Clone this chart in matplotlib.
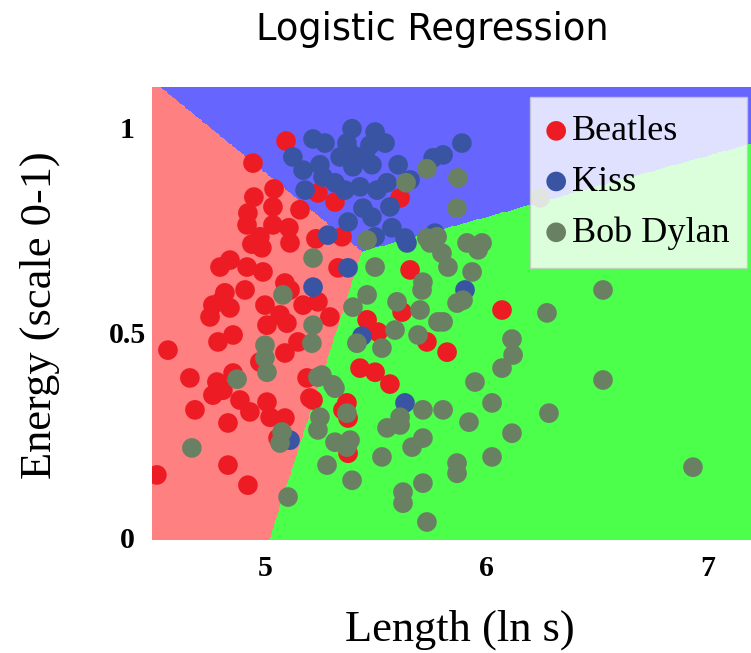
import numpy as np
import matplotlib
matplotlib.use("Agg")
import matplotlib.pyplot as plt
from matplotlib.colors import ListedColormap

# ---------------- data ----------------
classes = ["Beatles", "Kiss", "Bob Dylan"]

beatles_x = [5.095, 4.946, 5.041, 4.950, 5.158, 5.036, 4.923, 4.919, 5.036, 5.108,
             5.230, 5.239, 5.316, 5.610, 5.348, 4.977, 4.941, 4.986, 4.797, 4.842,
             4.919, 5.113, 5.330, 5.655, 4.910, 4.819, 4.806, 4.842, 4.752, 5.000,
             5.090, 5.113, 5.172, 5.239, 5.068, 5.009, 5.099, 4.856, 4.788, 4.562,
             5.090, 5.149, 4.977, 4.661, 4.783, 4.856, 5.190, 5.293, 5.461, 5.510,
             5.619, 5.731, 5.822, 5.429, 5.497, 5.564, 4.765, 4.810, 4.684, 4.887,
             4.932, 5.009, 5.023, 5.090, 4.833, 5.203, 5.059, 4.833, 4.512, 4.923,
             5.217, 5.370, 5.352, 5.375, 5.375, 6.070, 4.765, 4.991]
beatles_y = [0.968, 0.914, 0.851, 0.831, 0.800, 0.807, 0.792, 0.763, 0.763, 0.756,
             0.729, 0.841, 0.819, 0.829, 0.734, 0.734, 0.716, 0.707, 0.660, 0.677,
             0.660, 0.719, 0.658, 0.653, 0.604, 0.597, 0.579, 0.560, 0.538, 0.567,
             0.621, 0.604, 0.567, 0.575, 0.543, 0.518, 0.523, 0.494, 0.477, 0.457,
             0.450, 0.477, 0.428, 0.389, 0.379, 0.401, 0.389, 0.538, 0.531, 0.501,
             0.550, 0.477, 0.452, 0.413, 0.403, 0.374, 0.347, 0.359, 0.311, 0.335,
             0.306, 0.330, 0.293, 0.291, 0.279, 0.340, 0.242, 0.176, 0.152, 0.127,
             0.335, 0.328, 0.311, 0.291, 0.205, 0.555, 0.567, 0.648]

kiss_x = [5.217, 5.126, 5.172, 5.181, 5.393, 5.271, 5.497, 5.474, 5.542, 5.370,
          5.384, 5.339, 5.248, 5.452, 5.483, 5.397, 5.601, 5.655, 5.551, 5.429,
          5.316, 5.262, 5.506, 5.361, 5.889, 5.804, 5.759, 5.564, 5.442, 5.483,
          5.375, 5.573, 5.284, 5.497, 5.632, 5.767, 5.641, 5.375, 5.217, 5.903,
          5.438, 5.113, 5.632]
kiss_y = [0.973, 0.929, 0.897, 0.848, 0.998, 0.963, 0.990, 0.958, 0.963, 0.963,
          0.939, 0.929, 0.910, 0.934, 0.910, 0.905, 0.910, 0.873, 0.866, 0.856,
          0.866, 0.880, 0.848, 0.848, 0.963, 0.934, 0.927, 0.807, 0.804, 0.782,
          0.770, 0.756, 0.738, 0.734, 0.731, 0.743, 0.719, 0.658, 0.611, 0.604,
          0.491, 0.237, 0.328]

dylan_x = [5.731, 5.637, 5.871, 5.867, 5.461, 5.731, 5.777, 5.912, 5.217, 5.081,
           5.217, 5.212, 5.000, 5.000, 5.009, 4.874, 5.239, 5.745, 5.799, 5.962,
           5.980, 5.497, 5.826, 5.935, 5.713, 5.709, 5.894, 5.867, 5.461, 5.397,
           5.596, 5.700, 5.587, 5.781, 5.691, 5.415, 5.528, 5.257, 5.307, 5.948,
           6.242, 6.526, 6.273, 6.115, 6.120, 6.070, 6.526, 5.804, 6.025, 5.804,
           5.921, 6.282, 6.115, 6.025, 5.867, 5.867, 6.932, 5.316, 5.370, 5.248,
           5.239, 5.610, 5.713, 5.551, 5.610, 5.316, 5.384, 5.370, 5.713, 5.664,
           5.528, 5.280, 5.393, 5.713, 5.623, 5.623, 5.731, 5.077, 5.068, 4.670,
           5.104]
dylan_y = [0.900, 0.866, 0.878, 0.804, 0.726, 0.731, 0.734, 0.719, 0.682, 0.592,
           0.518, 0.474, 0.469, 0.438, 0.403, 0.386, 0.391, 0.719, 0.694, 0.702,
           0.719, 0.660, 0.660, 0.648, 0.623, 0.604, 0.579, 0.572, 0.592, 0.562,
           0.575, 0.555, 0.506, 0.526, 0.494, 0.474, 0.462, 0.396, 0.372, 0.379,
           0.829, 0.604, 0.548, 0.484, 0.445, 0.413, 0.384, 0.526, 0.328, 0.311,
           0.281, 0.303, 0.254, 0.196, 0.181, 0.156, 0.171, 0.364, 0.303, 0.293,
           0.262, 0.293, 0.311, 0.267, 0.274, 0.232, 0.237, 0.220, 0.242, 0.220,
           0.196, 0.176, 0.139, 0.132, 0.110, 0.083, 0.037, 0.257, 0.230, 0.218,
           0.098]

# linear class scores (logistic regression decision function): w_len, w_energy, bias
coef_len = [-6.95, -2.22, 0.0]
coef_energy = [4.12, 14.82, 0.0]
intercepts = [34.91, 1.72, 0.0]

x_ticks = [5, 6, 7]
y_ticks = [0, 0.5, 1]
y_tick_labels = ["0", "0.5", "1"]

# ---------------- styling ----------------
region_colors = ["#FF8080", "#6666FF", "#4BFF4B"]
point_colors = ["#ED1C24", "#3A54A4", "#6A8062"]
xlim = (4.49, 7.194)
ylim = (-0.007, 1.100)

fig = plt.figure(figsize=(7.51, 6.53), dpi=100)
ax = fig.add_axes([152 / 751, 1 - 540 / 653, 599 / 751, 453 / 653])

gx = np.linspace(xlim[0], xlim[1], 700)
gy = np.linspace(ylim[0], ylim[1], 520)
GX, GY = np.meshgrid(gx, gy)
scores = np.stack([coef_len[k] * GX + coef_energy[k] * GY + intercepts[k] for k in range(3)])
Z = np.argmax(scores, axis=0)
ax.imshow(Z, origin="lower", extent=[xlim[0], xlim[1], ylim[0], ylim[1]],
          cmap=ListedColormap(region_colors), vmin=0, vmax=2,
          interpolation="nearest", aspect="auto", zorder=0)

for name, xs, ys, c in zip(classes, [beatles_x, kiss_x, dylan_x],
                           [beatles_y, kiss_y, dylan_y], point_colors):
    ax.scatter(xs, ys, s=200, color=c, edgecolors="none", label=name, zorder=2)

ax.set_xlim(*xlim)
ax.set_ylim(*ylim)
for s in ax.spines.values():
    s.set_visible(False)

serif = ["Liberation Serif", "DejaVu Serif"]
ax.set_xticks(x_ticks)
ax.set_xticklabels([str(t) for t in x_ticks], fontfamily=serif, fontweight="bold", fontsize=21.5)
ax.set_yticks(y_ticks)
ax.set_yticklabels(y_tick_labels, fontfamily=serif, fontweight="bold", fontsize=21.5, ha="center")
ax.tick_params(axis="x", length=0, pad=11)
ax.tick_params(axis="y", length=0, pad=18)

ax.set_xlabel("Length (ln s)", fontfamily=serif, fontsize=32)
ax.xaxis.set_label_coords(0.514, -0.198)
ax.xaxis.label.set_va("center")
ax.set_ylabel("Energy (scale 0-1)", fontfamily=serif, fontsize=32)
ax.yaxis.set_label_coords(-0.187, 0.497)
ax.yaxis.label.set_va("center")

fig.text(432 / 751, 1 - 30 / 653, "Logistic Regression", ha="center", va="center",
         fontsize=26.5, fontfamily="DejaVu Sans")

leg = ax.legend(loc="upper left", bbox_to_anchor=((530 - 152) / 599, (540 - 97) / 453),
                prop={"family": serif, "size": 26}, frameon=True, fancybox=False,
                framealpha=0.8, edgecolor="#C8C8C8", facecolor="white",
                borderpad=0.5, handlelength=0.45, handletextpad=0.2,
                labelspacing=0.48, borderaxespad=0, markerscale=1.0)
leg.get_frame().set_linewidth(1.0)
leg.set_zorder(5)

fig.savefig("out.png", dpi=100)
